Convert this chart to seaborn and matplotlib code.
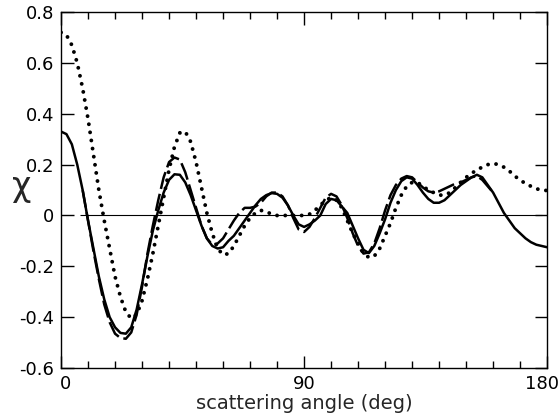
import numpy as np
import matplotlib
matplotlib.use("Agg")
import matplotlib.pyplot as plt
import matplotlib.ticker as mticker
import matplotlib.transforms as mtrans
import seaborn as sns

# solid curve (full range)
solid_deg = [0, 2, 4, 6, 8, 10, 12, 14, 16, 18, 20, 22, 24, 26, 28, 30, 32, 34, 36, 38,
             40, 42, 44, 46, 48, 50, 52, 54, 56, 58, 60, 62, 64, 66, 68, 70, 72, 74, 76, 78,
             80, 82, 84, 86, 88, 90, 92, 94, 96, 98, 100, 102, 104, 106, 108, 110, 112, 114,
             116, 118, 120, 122, 124, 126, 128, 130, 132, 134, 136, 138, 140, 142, 144, 146,
             148, 150, 152, 154, 156, 158, 160, 162, 164, 166, 168, 170, 172, 174, 176, 178, 180]
solid_chi = [0.33, 0.32, 0.28, 0.20, 0.10, -0.02, -0.13, -0.24, -0.33, -0.40, -0.44, -0.462,
             -0.465, -0.44, -0.37, -0.27, -0.16, -0.06, 0.02, 0.09, 0.14, 0.162, 0.16, 0.13,
             0.08, 0.02, -0.04, -0.09, -0.12, -0.13, -0.125, -0.10, -0.08, -0.05, -0.02, 0.01,
             0.04, 0.065, 0.08, 0.088, 0.085, 0.07, 0.04, 0.00, -0.035, -0.045, -0.035, -0.02,
             0.00, 0.045, 0.065, 0.06, 0.035, 0.01, -0.04, -0.09, -0.135, -0.148, -0.12, -0.07,
             -0.015, 0.05, 0.10, 0.135, 0.15, 0.145, 0.12, 0.09, 0.065, 0.05, 0.05, 0.06, 0.08,
             0.10, 0.12, 0.135, 0.15, 0.16, 0.15, 0.12, 0.09, 0.05, 0.01, -0.02, -0.05, -0.07,
             -0.09, -0.105, -0.115, -0.12, -0.125]

# dashed curve
dash_deg = [8, 10, 12, 14, 16, 18, 20, 22, 24, 26, 28, 30, 32, 34, 36, 38, 40, 42, 44, 46,
            48, 50, 52, 54, 56, 58, 60, 62, 64, 66, 68, 70, 72, 74, 76, 78, 80, 82, 84, 86,
            88, 90, 92, 94, 96, 98, 100, 102, 104, 106, 108, 110, 112, 114, 116, 118, 120,
            122, 124, 126, 128, 130, 132, 134, 136, 138, 140, 142, 144, 146, 148, 150, 152,
            154, 156, 158, 160]
dash_chi = [0.10, -0.02, -0.14, -0.25, -0.35, -0.42, -0.465, -0.482, -0.485, -0.46, -0.39,
            -0.28, -0.15, -0.04, 0.06, 0.15, 0.21, 0.228, 0.22, 0.17, 0.10, 0.03, -0.04, -0.09,
            -0.115, -0.11, -0.09, -0.055, -0.02, 0.01, 0.03, 0.03, 0.035, 0.05, 0.075, 0.09,
            0.09, 0.075, 0.04, -0.01, -0.055, -0.065, -0.045, -0.01, 0.03, 0.07, 0.085, 0.075,
            0.04, -0.01, -0.07, -0.12, -0.15, -0.145, -0.11, -0.05, 0.02, 0.08, 0.12, 0.145,
            0.155, 0.15, 0.13, 0.11, 0.095, 0.09, 0.095, 0.105, 0.115, 0.125, 0.13, 0.14, 0.15,
            0.155, 0.14, 0.115, 0.09]

# dotted curve
dot_deg = [0, 2, 4, 6, 8, 10, 12, 14, 16, 18, 20, 22, 24, 26, 28, 30, 32, 34, 36, 38, 40,
           42, 44, 46, 48, 50, 52, 54, 56, 58, 60, 62, 64, 66, 68, 70, 72, 74, 76, 78, 80,
           84, 88, 90, 92, 94, 96, 98, 100, 102, 104, 106, 108, 110, 112, 114, 116, 118, 120,
           122, 124, 126, 128, 130, 132, 134, 136, 138, 140, 142, 144, 146, 148, 150, 152,
           154, 156, 158, 160, 162, 164, 166, 168, 170, 172, 174, 176, 178, 180]
dot_chi = [0.72, 0.71, 0.67, 0.60, 0.50, 0.38, 0.24, 0.10, -0.02, -0.13, -0.24, -0.32, -0.38,
           -0.405, -0.39, -0.335, -0.25, -0.15, -0.04, 0.07, 0.18, 0.27, 0.325, 0.33, 0.29,
           0.21, 0.11, 0.01, -0.07, -0.13, -0.155, -0.15, -0.12, -0.08, -0.04, -0.01, 0.01,
           0.02, 0.015, 0.005, 0.0, 0.0, 0.0, 0.0, 0.005, 0.02, 0.04, 0.06, 0.07, 0.06, 0.03,
           -0.02, -0.07, -0.11, -0.15, -0.165, -0.16, -0.13, -0.08, -0.03, 0.03, 0.08, 0.115,
           0.13, 0.13, 0.115, 0.10, 0.09, 0.08, 0.08, 0.09, 0.11, 0.13, 0.15, 0.165, 0.18,
           0.19, 0.20, 0.205, 0.20, 0.19, 0.175, 0.155, 0.14, 0.125, 0.115, 0.105, 0.10, 0.098]

x_major = [0, 90, 180]
y_ticks = [-0.6, -0.4, -0.2, 0.0, 0.2, 0.4, 0.6, 0.8]
y_labels = ["-0.6", "-0.4", "-0.2", "0", "0.2", "0.4", "0.6", "0.8"]

sns.set_style("ticks")
plt.rcParams["font.family"] = ["DejaVu Sans"]

fig = plt.figure(figsize=(5.6, 4.17), dpi=100)
ax = fig.add_axes([0.109, 0.1175, 0.868, 0.8535])

ax.hlines(0, 7, 178, color="black", lw=0.8)

sns.lineplot(x=solid_deg, y=solid_chi, ax=ax, color="black", lw=1.8, sort=False)
sns.lineplot(x=dash_deg, y=dash_chi, ax=ax, color="black", lw=1.8, sort=False,
             linestyle=(0, (7, 2)))
sns.lineplot(x=dot_deg, y=dot_chi, ax=ax, color="black", lw=2.8, sort=False,
             linestyle=(0, (0.01, 2.1)), dash_capstyle="round")

ax.set_xlim(0, 180)
ax.set_ylim(-0.6, 0.8)
ax.xaxis.set_major_locator(mticker.FixedLocator(x_major))
ax.xaxis.set_minor_locator(mticker.MultipleLocator(10))
ax.set_xticklabels([str(v) for v in x_major])
ax.yaxis.set_major_locator(mticker.FixedLocator(y_ticks))
ax.set_yticklabels(y_labels)

ax.tick_params(which="both", direction="in", top=True, right=True, labelsize=13,
               width=1.0, colors="black")
ax.tick_params(which="major", length=9, pad=5)
ax.tick_params(which="minor", length=5)
for sp in ax.spines.values():
    sp.set_linewidth(1.0)
    sp.set_color("black")

# nudge the end labels so they sit like the original
xl = ax.get_xticklabels()
xl[0].set_transform(xl[0].get_transform() + mtrans.ScaledTranslation(4 / 100, 0, fig.dpi_scale_trans))
xl[-1].set_transform(xl[-1].get_transform() + mtrans.ScaledTranslation(-5 / 100, 0, fig.dpi_scale_trans))

ax.set_xlabel("scattering angle (deg)", fontsize=14, labelpad=0)
ax.xaxis.set_label_coords(0.5, -0.072)
ax.set_ylabel("χ", fontsize=24, rotation=0, va="center")
ax.yaxis.set_label_coords(-0.08, 0.51)

fig.savefig("out.png", dpi=100, facecolor="white")
